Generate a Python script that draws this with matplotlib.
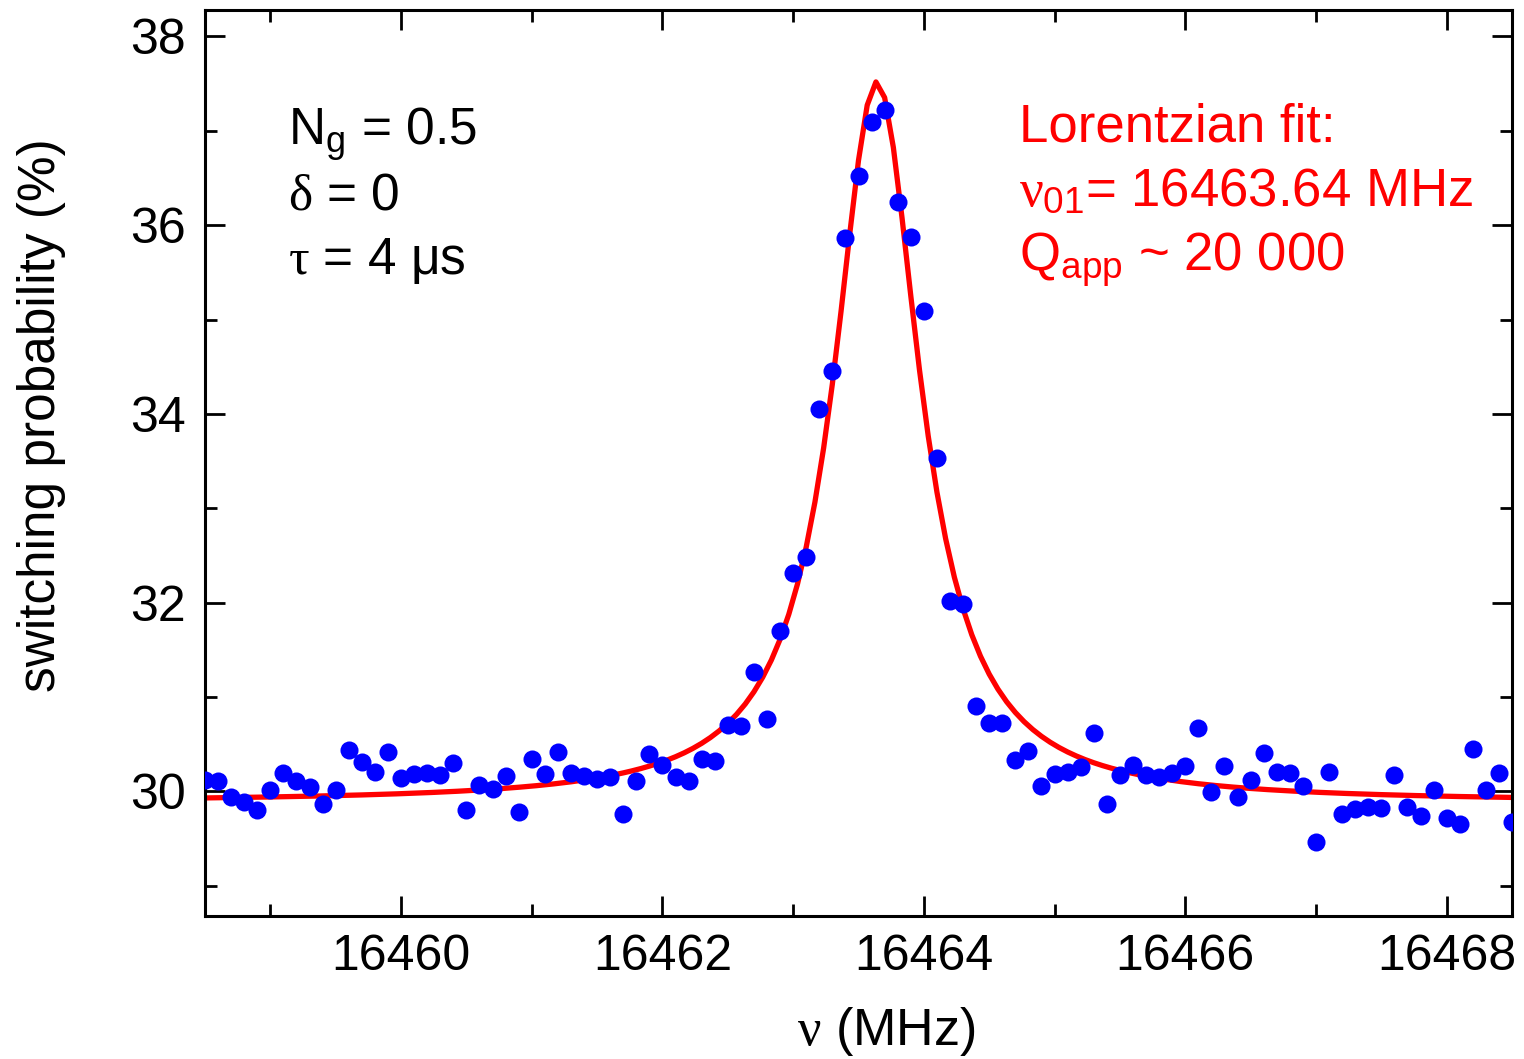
import numpy as np
import matplotlib
matplotlib.use("Agg")
import matplotlib.pyplot as plt
from matplotlib.ticker import MultipleLocator, FormatStrFormatter

plt.rcParams["font.family"] = ["Liberation Sans", "DejaVu Sans"]
plt.rcParams["mathtext.fontset"] = "custom"
plt.rcParams["mathtext.rm"] = "Liberation Sans"
plt.rcParams["mathtext.sf"] = "Liberation Sans"
plt.rcParams["mathtext.it"] = "Liberation Serif"
plt.rcParams["mathtext.bf"] = "Liberation Sans:bold"

# Frequency sweep (MHz), 0.1 MHz steps
freq = np.linspace(16458.5, 16468.5, 101)

# Measured switching probability (%)
p_switch = [
    30.12, 30.11, 29.94, 29.89, 29.80, 30.02, 30.20, 30.11, 30.05, 29.87,
    30.01, 30.44, 30.31, 30.21, 30.42, 30.14, 30.18, 30.19, 30.17, 30.30,
    29.80, 30.07, 30.03, 30.16, 29.78, 30.34, 30.18, 30.42, 30.19, 30.16,
    30.13, 30.15, 29.76, 30.11, 30.40, 30.28, 30.15, 30.11, 30.34, 30.32,
    30.70, 30.69, 31.27, 30.77, 31.70, 32.31, 32.48, 34.05, 34.46, 35.86,
    36.52, 37.09, 37.22, 36.25, 35.88, 35.09, 33.53, 32.02, 31.99, 30.90,
    30.72, 30.72, 30.33, 30.43, 30.06, 30.18, 30.21, 30.26, 30.62, 29.87,
    30.17, 30.28, 30.17, 30.15, 30.19, 30.27, 30.67, 29.99, 30.27, 29.94,
    30.12, 30.41, 30.21, 30.20, 30.06, 29.46, 30.21, 29.76, 29.81, 29.84,
    29.82, 30.17, 29.84, 29.74, 30.02, 29.72, 29.65, 30.45, 30.01, 30.20,
    29.68,
]

# Lorentzian fit parameters
nu01 = 16463.64      # centre (MHz)
fwhm = 0.80          # full width at half maximum (MHz)
baseline = 29.885    # offset (%)
height = 7.635       # peak height above baseline (%)

fit_freq = np.linspace(16458.5, 16468.5, 151)
half = fwhm / 2.0
fit_p = baseline + height * half**2 / ((fit_freq - nu01) ** 2 + half**2)

W, H = 1524, 1059
fig = plt.figure(figsize=(W / 100, H / 100), dpi=100)
ax = fig.add_axes([205 / W, 1 - 916 / H, (1512 - 205) / W, (916 - 10) / H])

ax.plot(fit_freq, fit_p, color="#ff0000", lw=3.8, zorder=2)
ax.plot(freq, p_switch, "o", color="#0000ff", ms=13, mec="none", zorder=3)

ax.set_xlim(16458.5, 16468.5)
ax.set_ylim(28.68, 38.28)
ax.xaxis.set_major_locator(MultipleLocator(2))
ax.xaxis.set_minor_locator(MultipleLocator(1))
ax.yaxis.set_major_locator(MultipleLocator(2))
ax.yaxis.set_minor_locator(MultipleLocator(1))
ax.xaxis.set_major_formatter(FormatStrFormatter("%d"))
ax.yaxis.set_major_formatter(FormatStrFormatter("%d"))

for s in ax.spines.values():
    s.set_linewidth(2.2)
ax.tick_params(which="both", direction="in", top=True, right=True, width=2.0,
               labelsize=36, color="black")
ax.tick_params(which="major", length=14.5)
ax.tick_params(which="minor", length=8.5)
ax.tick_params(axis="x", which="major", pad=13)
ax.tick_params(axis="y", which="major", pad=14)


def px(x, y):
    return x / W, 1 - y / H


fig.text(*px(42, 415), "switching probability (%)", rotation=90,
         ha="center", va="center", fontsize=37)
fig.text(*px(886, 1032), r"$\nu$ (MHz)", ha="center", va="center", fontsize=37.5)

fig.text(*px(288, 145), r"$\mathrm{N_g}$ = 0.5", fontsize=37, va="baseline")
fig.text(*px(288, 209), r"$\delta$ = 0", fontsize=37, va="baseline")
fig.text(*px(288, 274), r"$\tau$ = 4 μs", fontsize=37, va="baseline")

red = "#ff0000"
fig.text(*px(1019, 141), "Lorentzian fit:", fontsize=38, va="baseline", color=red)
fig.text(*px(1019, 206), r"$\nu_{\mathrm{01}}$= 16463.64 MHz", fontsize=38,
         va="baseline", color=red)
fig.text(*px(1019, 271), r"$\mathrm{Q_{app}}$ ~ 20 000", fontsize=38,
         va="baseline", color=red)

fig.savefig("out.png", dpi=100)
